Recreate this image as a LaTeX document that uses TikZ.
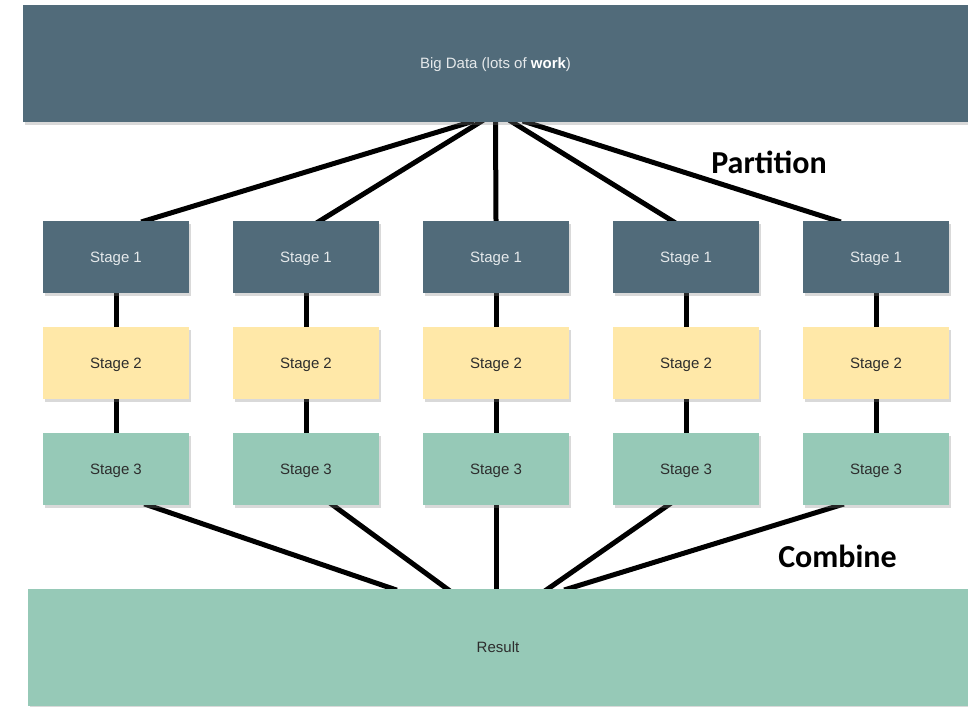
\documentclass[tikz,border=0pt]{standalone}
\usepackage{fontspec}
\setmainfont{Liberation Sans}
\newfontfamily\carlito{Carlito}
\usetikzlibrary{shadows,calc}
\pgfdeclarelayer{bg}
\pgfsetlayers{bg,main}
\definecolor{slate}{RGB}{81,107,122}
\definecolor{sand}{RGB}{255,232,168}
\definecolor{mint}{RGB}{150,201,183}
\definecolor{darktext}{RGB}{45,45,45}
\begin{document}
\begin{tikzpicture}[x=1pt,y=-1pt,
  box/.style={draw=none, inner sep=0pt, text depth=0pt, font=\fontsize{15}{18}\selectfont,
    drop shadow={shadow xshift=2pt, shadow yshift=-3pt, opacity=0.3}},
  stagebox/.style={box, minimum width=146pt, minimum height=72pt},
  sone/.style={stagebox, fill=slate, text=white!85!slate},
  stwo/.style={stagebox, fill=sand, text=darktext},
  sthree/.style={stagebox, fill=mint, text=darktext},
  link/.style={line width=5pt, black, shorten <=-4pt, shorten >=-4pt},
  tag/.style={font=\carlito\bfseries\fontsize{32}{37}\selectfont, inner sep=0pt}
]
\useasboundingbox (0,0) rectangle (968,706);
\node[box, fill=slate, text=white!85!slate, minimum width=945pt, minimum height=117pt] (data) at (495.5,63.5) {Big Data (lots of \textcolor{white}{\textbf{work}})};
\node[box, fill=mint, text=darktext, minimum width=940pt, minimum height=117pt] (result) at (498,647.5) {Result};
\foreach \i/\x in {1/116,2/306,3/496,4/686,5/876}{
  \node[sone] (a\i) at (\x,257) {Stage 1};
  \node[stwo] (b\i) at (\x,363) {Stage 2};
  \node[sthree] (c\i) at (\x,469) {Stage 3};
}
\begin{pgfonlayer}{bg}
\foreach \i/\p/\q in {1/-25.5/29,2/-15.5/14,3/0/0,4/17/-14,5/31/-39}
  \draw[link] ([xshift=\p pt]data.south) -- ([xshift=\q pt]a\i.north);
\foreach \i in {1,...,5}{
  \draw[link] (a\i) -- (b\i);
  \draw[link] (b\i) -- (c\i);
}
\foreach \i/\p/\q in {1/32/-105,2/27/-51,3/0/-2,4/-18/50,5/-36/70}
  \draw[link] ([xshift=\p pt]c\i.south) -- ([xshift=\q pt]result.north);
\end{pgfonlayer}
\node[tag] (part) at (769,162) {Partition};
\node[tag] (comb) at (837.5,556) {Combine};
\end{tikzpicture}
\end{document}
